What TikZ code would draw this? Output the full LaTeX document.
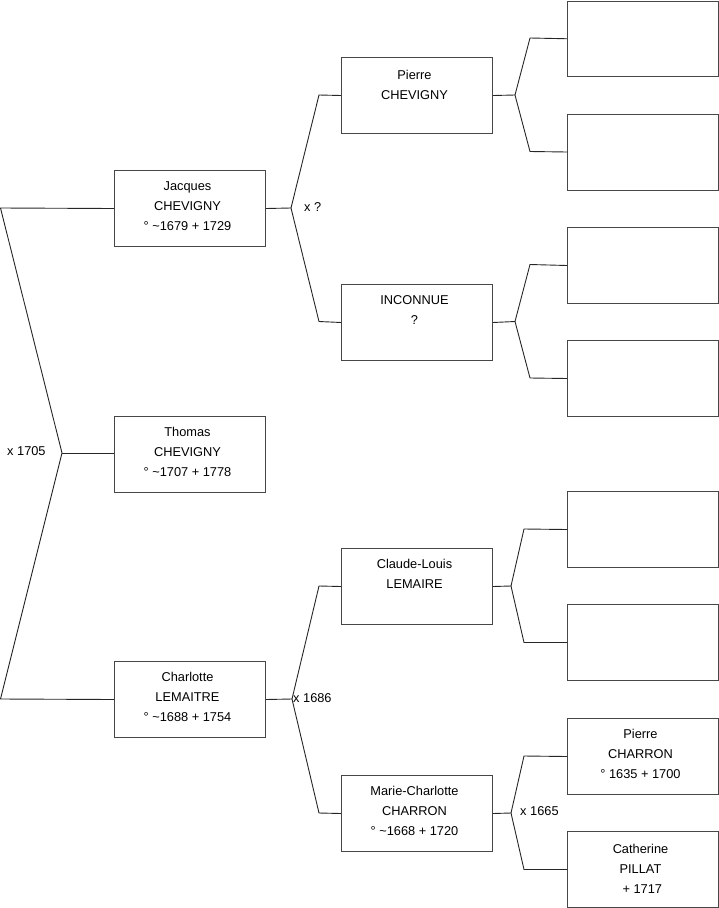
\documentclass[tikz,border=0pt]{standalone}
\usepackage{fontspec}
\setmainfont{Liberation Sans}
\begin{document}
\begin{tikzpicture}[x=1pt,y=-1pt,
  person/.style={draw=black!72, line width=1pt, minimum width=151pt, minimum height=76pt, inner sep=0pt, anchor=north west},
  ptext/.style={anchor=north, inner sep=0pt, align=center, font=\fontsize{12.8}{20}\selectfont},
  link/.style={draw=black!85, line width=0.9pt},
  mlabel/.style={anchor=base west, inner sep=0pt, font=\fontsize{12.8}{20}\selectfont}]
\useasboundingbox (0,0) rectangle (719,908);
% column 1
\node[person] (jac) at (114,170) {};
\node[person] (tho) at (114,416) {};
\node[person] (cha) at (114,661) {};
% column 2
\node[person] (pie) at (341,57) {};
\node[person] (inc) at (341,284) {};
\node[person] (cla) at (341,548) {};
\node[person] (mar) at (341,775) {};
% column 3
\node[person, minimum height=75.5pt] (g1) at (567,0.5) {};
\node[person] (g2) at (567,113.5) {};
\node[person] (g3) at (567,227) {};
\node[person] (g4) at (567,340) {};
\node[person] (g5) at (567,491) {};
\node[person] (g6) at (567,604) {};
\node[person] (g7) at (567,718) {};
\node[person] (g8) at (567,831) {};
% texts
\node[ptext] (jact) at ([xshift=-2.5pt,yshift=-6pt]jac.north) {\strut Jacques\\\strut CHEVIGNY\\\strut ° \textasciitilde1679 + 1729};
\node[ptext] (thot) at ([xshift=-2.5pt,yshift=-6pt]tho.north) {\strut Thomas\\\strut CHEVIGNY\\\strut ° \textasciitilde1707 + 1778};
\node[ptext] (chat) at ([xshift=-2.5pt,yshift=-6pt]cha.north) {\strut Charlotte\\\strut LEMAITRE\\\strut ° \textasciitilde1688 + 1754};
\node[ptext] (piet) at ([xshift=-2.5pt,yshift=-8pt]pie.north) {\strut Pierre\\\strut CHEVIGNY};
\node[ptext] (inct) at ([xshift=-2.5pt,yshift=-6pt]inc.north) {\strut INCONNUE\\\strut ?};
\node[ptext] (clat) at ([xshift=-2.5pt,yshift=-6pt]cla.north) {\strut Claude-Louis\\\strut LEMAIRE};
\node[ptext] (mart) at ([xshift=-2.5pt,yshift=-6pt]mar.north) {\strut Marie-Charlotte\\\strut CHARRON\\\strut ° \textasciitilde1668 + 1720};
\node[ptext] (g7t) at ([xshift=-2.5pt,yshift=-6pt]g7.north) {\strut Pierre\\\strut CHARRON\\\strut ° 1635 + 1700};
\node[ptext] (g8t) at ([xshift=-2.5pt,yshift=-8pt]g8.north) {\strut Catherine\\\strut PILLAT\\\strut \ + 1717};
% junction points
\coordinate (r0) at (0.5,208);
\coordinate (ra) at (62,453);
\coordinate (r1) at (0.5,699);
\coordinate (ja) at (291,208);
\coordinate (j1) at (319,95);
\coordinate (j2) at (319,321.5);
\coordinate (ca) at (292,699);
\coordinate (c1) at (319,586);
\coordinate (c2) at (319,813);
\coordinate (pa) at (515,95);
\coordinate (p1) at (530,38);
\coordinate (p2) at (530,151.5);
\coordinate (ia) at (515,321.5);
\coordinate (i1) at (530,264.5);
\coordinate (i2) at (530,378);
\coordinate (la) at (511,586);
\coordinate (l1) at (524,529);
\coordinate (l2) at (524,642.5);
\coordinate (ma) at (511,813);
\coordinate (m1) at (524,756);
\coordinate (m2) at (524,869.5);
% connectors
\draw[link] (jac.west) -- (r0) -- (ra) -- (r1) -- (cha.west);
\draw[link] (ra) -- (ra -| tho.west);
\draw[link] (jac.east) -- (ja) -- (j1) -- (pie.west);
\draw[link] (ja) -- (j2) -- (inc.west);
\draw[link] (cha.east) -- (ca) -- (c1) -- (cla.west);
\draw[link] (ca) -- (c2) -- (mar.west);
\draw[link] (pie.east) -- (pa) -- (p1) -- (g1.west);
\draw[link] (pa) -- (p2) -- (g2.west);
\draw[link] (inc.east) -- (ia) -- (i1) -- (g3.west);
\draw[link] (ia) -- (i2) -- (g4.west);
\draw[link] (cla.east) -- (la) -- (l1) -- (g5.west);
\draw[link] (la) -- (l2) -- (g6.west);
\draw[link] (mar.east) -- (ma) -- (m1) -- (g7.west);
\draw[link] (ma) -- (m2) -- (g8.west);
% marriage labels
\node[mlabel] (mr) at (7,455.5) {x 1705};
\node[mlabel] (mj) at (304,211.5) {x ?};
\node[mlabel] (mc) at (293,702.5) {x 1686};
\node[mlabel] (mm) at (520,815.5) {x 1665};
\end{tikzpicture}
\end{document}
